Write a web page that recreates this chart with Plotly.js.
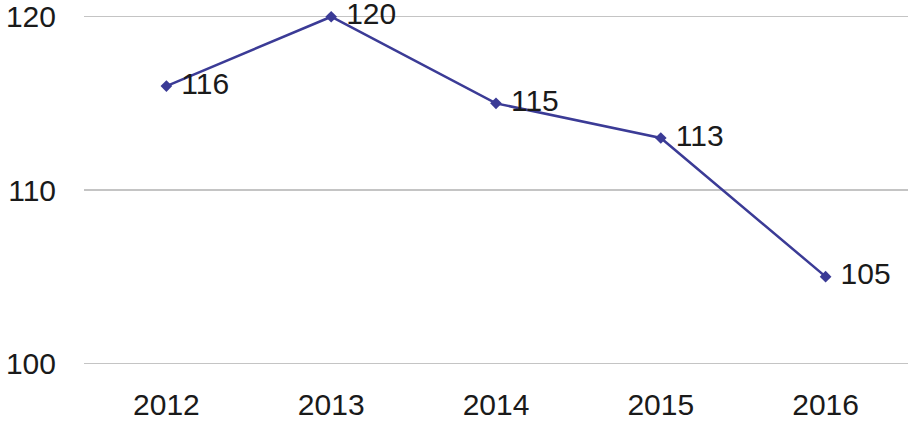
<!DOCTYPE html>
<html>
<head>
<meta charset="utf-8">
<script src="https://cdn.plot.ly/plotly-3.0.1.min.js"></script>
<style>html,body{margin:0;padding:0;background:#fff;}#chart{width:915px;height:432px;}</style>
</head>
<body>
<div id="chart"></div>
<script>
const years = ["2012", "2013", "2014", "2015", "2016"];
const values = [116, 120, 115, 113, 105];
const yTicks = [100, 110, 120];

const trace = {
  x: years,
  y: values,
  type: "scatter",
  mode: "lines+markers+text",
  text: values.map(v => " " + v),
  textposition: "middle right",
  textfont: {family: "Liberation Sans, Arial, sans-serif", size: 30, color: "#1a1a1a"},
  line: {color: "#3b3b96", width: 2.5},
  marker: {symbol: "diamond", size: 9, color: "#3b3b96"},
  cliponaxis: false,
  hoverinfo: "skip"
};

const layout = {
  width: 915,
  height: 432,
  margin: {l: 84, r: 7, t: 15.27, b: 67.27},
  paper_bgcolor: "#ffffff",
  plot_bgcolor: "#ffffff",
  showlegend: false,
  font: {family: "Liberation Sans, Arial, sans-serif", size: 30, color: "#1a1a1a"},
  xaxis: {
    type: "category",
    range: [-0.5, 4.5],
    showgrid: false,
    zeroline: false,
    showline: false,
    ticks: "",
    ticklabelstandoff: 19,
    tickfont: {size: 30, color: "#1a1a1a"}
  },
  yaxis: {
    range: [99.9, 120.1],
    tickvals: yTicks,
    ticktext: yTicks.map(String),
    showgrid: true,
    gridcolor: "#c4c4c4",
    gridwidth: 1.5,
    zeroline: false,
    showline: false,
    ticks: "",
    ticklabelstandoff: 27,
    tickfont: {size: 30, color: "#1a1a1a"}
  }
};

Plotly.newPlot("chart", [trace], layout, {displayModeBar: false, staticPlot: true});
</script>
</body>
</html>
